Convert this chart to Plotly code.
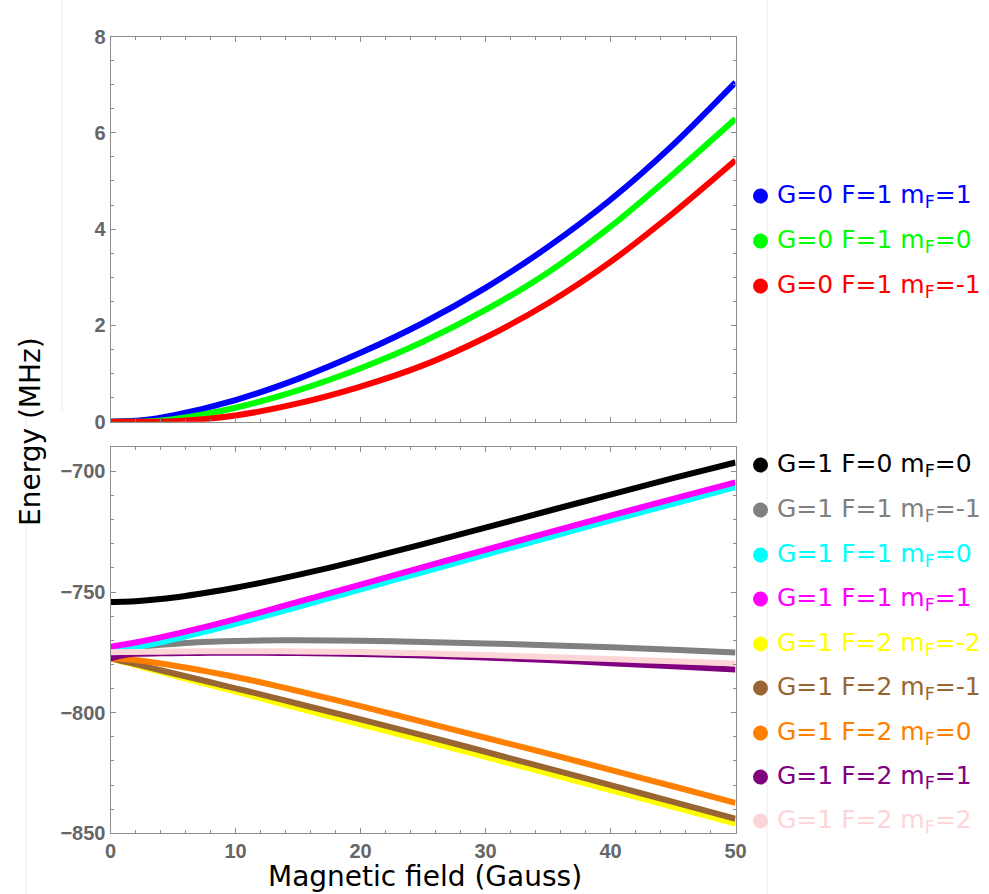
import plotly.graph_objects as go

# ---------------- data ----------------
x_top = [0, 2.5, 5, 10, 15, 20, 25, 30, 35, 40, 45, 50]
e_g0_f1_m1 = [0, 0.03, 0.13, 0.45, 0.89, 1.43, 2.05, 2.78, 3.63, 4.61, 5.75, 7.05]
e_g0_f1_m0 = [0, 0.0, 0.05, 0.29, 0.65, 1.11, 1.66, 2.32, 3.10, 4.05, 5.14, 6.29]
e_g0_f1_mm1 = [0, 0, 0.01, 0.13, 0.38, 0.73, 1.17, 1.75, 2.46, 3.32, 4.33, 5.43]

x_bot = [0, 1, 2, 4, 6, 8, 10, 12, 15, 20, 25, 30, 35, 40, 45, 50]
e_g1_f0_m0 = [-754.1, -754.0, -753.8, -752.9, -751.6, -750.0, -748.2, -746.2, -742.9, -736.8, -730.1, -723.3, -716.4, -709.6, -702.8, -696.3]
e_g1_f1_mm1 = [-774.5, -773.7, -773.0, -771.9, -771.1, -770.6, -770.3, -770.1, -770.0, -770.2, -770.7, -771.3, -772.0, -772.9, -773.9, -775.1]
e_g1_f1_m0 = [-774.6, -773.7, -772.8, -770.8, -768.4, -765.9, -763.2, -760.4, -756.1, -748.9, -741.7, -734.5, -727.4, -720.3, -713.4, -706.5]
e_g1_f1_m1 = [-772.7, -771.8, -770.9, -768.8, -766.4, -763.9, -761.2, -758.4, -754.1, -746.9, -739.7, -732.5, -725.4, -718.3, -711.4, -704.5]
e_g1_f2_mm2 = [-777.5, -778.9, -780.3, -783.1, -785.9, -788.6, -791.3, -794.0, -798.1, -804.8, -811.5, -818.3, -825.2, -832.1, -839.0, -846.0]
e_g1_f2_mm1 = [-777.5, -778.7, -779.9, -782.4, -784.9, -787.4, -789.9, -792.4, -796.3, -802.8, -809.4, -816.2, -823.1, -830.0, -837.0, -844.0]
e_g1_f2_m0 = [-777.5, -777.7, -778.2, -779.6, -781.3, -783.2, -785.2, -787.4, -791.0, -797.3, -803.8, -810.4, -817.0, -823.7, -830.5, -837.4]
e_g1_f2_m1 = [-777.5, -776.2, -775.6, -775.4, -775.3, -775.2, -775.2, -775.2, -775.3, -775.7, -776.3, -777.1, -778.2, -779.5, -780.8, -782.1]
e_g1_f2_m2 = [-775.0, -774.9, -774.8, -774.7, -774.6, -774.5, -774.5, -774.5, -774.6, -774.9, -775.4, -776.1, -776.9, -777.8, -778.7, -779.6]

top_labels = ["G=0 F=1 m<sub>F</sub>=1", "G=0 F=1 m<sub>F</sub>=0", "G=0 F=1 m<sub>F</sub>=-1"]
top_colors = ["#0000FF", "#00FF00", "#FF0000"]
top_series = [e_g0_f1_m1, e_g0_f1_m0, e_g0_f1_mm1]

bot_labels = ["G=1 F=0 m<sub>F</sub>=0", "G=1 F=1 m<sub>F</sub>=-1", "G=1 F=1 m<sub>F</sub>=0",
              "G=1 F=1 m<sub>F</sub>=1", "G=1 F=2 m<sub>F</sub>=-2", "G=1 F=2 m<sub>F</sub>=-1",
              "G=1 F=2 m<sub>F</sub>=0", "G=1 F=2 m<sub>F</sub>=1", "G=1 F=2 m<sub>F</sub>=2"]
bot_colors = ["#000000", "#808080", "#00FFFF", "#FF00FF", "#FFFF00", "#996633",
              "#FF8000", "#800080", "#FCD6D6"]
bot_series = [e_g1_f0_m0, e_g1_f1_mm1, e_g1_f1_m0, e_g1_f1_m1, e_g1_f2_mm2,
              e_g1_f2_mm1, e_g1_f2_m0, e_g1_f2_m1, e_g1_f2_m2]

# ---------------- figure ----------------
W, H = 989, 894
fig = go.Figure()

for ys, c, n in zip(top_series, top_colors, top_labels):
    fig.add_trace(go.Scatter(x=x_top, y=ys, mode="lines", name=n, showlegend=False,
                             cliponaxis=False,
                             line=dict(color=c, width=6, shape="spline", smoothing=0.8),
                             xaxis="x", yaxis="y"))
for ys, c, n in zip(bot_series, bot_colors, bot_labels):
    fig.add_trace(go.Scatter(x=x_bot, y=ys, mode="lines", name=n, showlegend=False,
                             line=dict(color=c, width=6, shape="spline", smoothing=0.8),
                             xaxis="x2", yaxis="y2"))


def px_x(p):
    return p / W


def px_y(p):
    return (H - p) / H


xdom = [px_x(110.5), px_x(735.5)]
frame = "#8c8c8c"
tickfont = dict(family="Liberation Sans, Arial, sans-serif", size=20, color="#666666", weight="bold")

common_x = dict(domain=xdom, range=[0, 50], dtick=10, tick0=0, showline=True, linecolor=frame,
                linewidth=1, mirror="ticks", ticks="inside", ticklen=5, tickcolor=frame,
                showgrid=False, zeroline=False, tickfont=tickfont, automargin=False,
                minor=dict(dtick=2, ticks="inside", ticklen=3, tickcolor=frame))

fig.update_layout(
    width=W, height=H, margin=dict(l=0, r=0, t=0, b=0),
    paper_bgcolor="white", plot_bgcolor="white",
    showlegend=False,
    xaxis=dict(common_x, anchor="y", showticklabels=False),
    yaxis=dict(domain=[px_y(421.7), px_y(36.5)], range=[0, 8], dtick=2, tick0=0,
               showline=True, linecolor=frame, linewidth=1, mirror="ticks", ticks="inside",
               ticklen=5, tickcolor=frame, showgrid=False, zeroline=False, tickfont=tickfont,
               anchor="x", automargin=False,
               minor=dict(dtick=0.5, ticks="inside", ticklen=3, tickcolor=frame)),
    xaxis2=dict(common_x, anchor="y2"),
    yaxis2=dict(domain=[px_y(833.3), px_y(447.3)], range=[-850, -690], dtick=50, tick0=-850,
                showline=True, linecolor=frame, linewidth=1, mirror="ticks", ticks="inside",
                ticklen=5, tickcolor=frame, showgrid=False, zeroline=False, tickfont=tickfont,
                anchor="x2", automargin=False,
                minor=dict(dtick=10, ticks="inside", ticklen=3, tickcolor=frame)),
)

annotations = [
    dict(text="Magnetic field (Gauss)", x=px_x(425), y=px_y(876), xref="paper", yref="paper",
         xanchor="center", yanchor="middle", showarrow=False,
         font=dict(family="DejaVu Sans, Verdana, sans-serif", size=28, color="black")),
    dict(text="Energy (MHz)", x=px_x(30), y=px_y(432), xref="paper", yref="paper",
         xanchor="center", yanchor="middle", showarrow=False, textangle=-90,
         font=dict(family="DejaVu Sans, Verdana, sans-serif", size=28, color="black")),
]
shapes = []

legend_font = "DejaVu Sans, Verdana, sans-serif"
top_rows = [196, 241, 286]
bot_rows = [465, 510, 555, 599, 644, 688, 733, 777, 821]
for labels, colors, rows in [(top_labels, top_colors, top_rows), (bot_labels, bot_colors, bot_rows)]:
    for lab, col, r in zip(labels, colors, rows):
        shapes.append(dict(type="circle", xref="paper", yref="paper",
                           xsizemode="pixel", ysizemode="pixel",
                           xanchor=px_x(760.5), yanchor=px_y(r),
                           x0=-7.5, x1=7.5, y0=-7.5, y1=7.5,
                           fillcolor=col, line=dict(width=0)))
        annotations.append(dict(text=lab, x=px_x(775), y=px_y(r), xref="paper", yref="paper",
                                xanchor="left", yanchor="middle", showarrow=False,
                                font=dict(family=legend_font, size=25, color=col)))

# faint border lines visible in the picture
shapes.append(dict(type="line", xref="paper", yref="paper", x0=px_x(767), x1=px_x(767),
                   y0=0, y1=1, line=dict(color="#ececec", width=1), layer="below"))
shapes.append(dict(type="line", xref="paper", yref="paper", x0=px_x(62), x1=px_x(62),
                   y0=px_y(412), y1=1, line=dict(color="#ececec", width=1), layer="below"))
shapes.append(dict(type="line", xref="paper", yref="paper", x0=px_x(26), x1=px_x(26),
                   y0=0, y1=px_y(412), line=dict(color="#ececec", width=1), layer="below"))

fig.update_layout(annotations=annotations, shapes=shapes)
fig.write_html("out.html")
